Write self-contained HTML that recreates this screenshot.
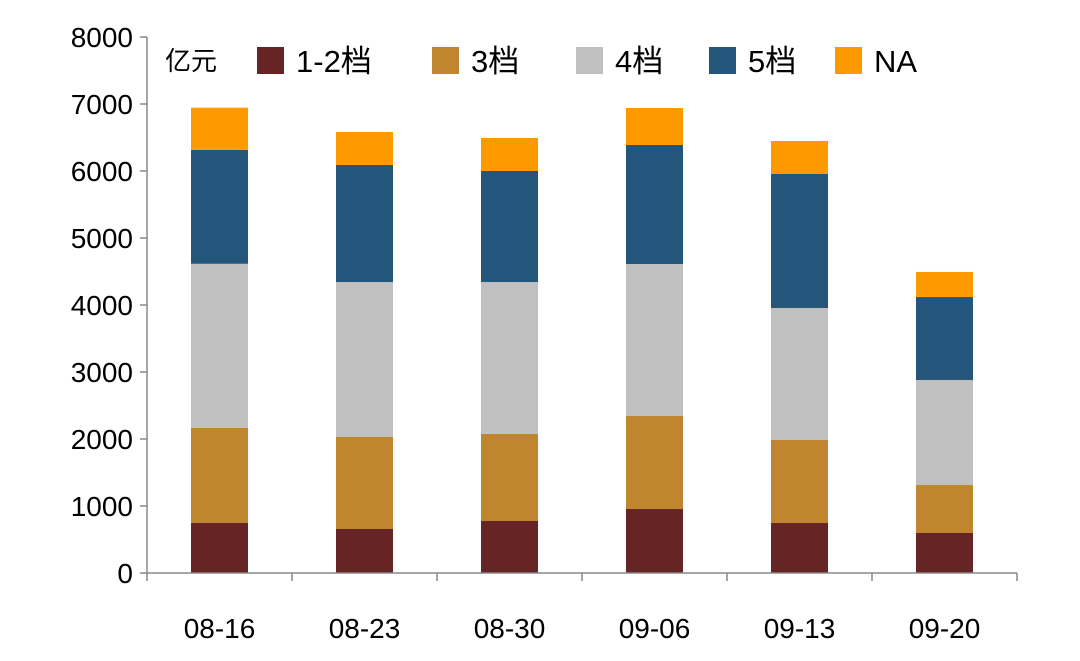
<!DOCTYPE html>
<html><head><meta charset="utf-8"><style>
body{margin:0;background:#fff;}
svg text{font-family:"Liberation Sans","Noto Sans CJK SC",sans-serif;fill:#000;}
</style></head><body>
<svg id="chart" width="1080" height="656" viewBox="0 0 1080 656" xmlns="http://www.w3.org/2000/svg">
<g id="bars"></g>
<g id="axes"></g>
<g id="legend"></g>
</svg>
<script>
const categories=["08-16","08-23","08-30","09-06","09-13","09-20"];
const s12=[750,657,776,955,746,597];
const s3=[1415,1373,1299,1388,1239,716];
const s4=[2450,2313,2268,2269,1970,1568];
const s5=[1700,1747,1657,1776,2000,1238];
const sNA=[630,492,493,552,493,374];
const seriesNames=["1-2档","3档","4档","5档","NA"];
const yTicks=[0,1000,2000,3000,4000,5000,6000,7000,8000];
const series=[s12,s3,s4,s5,sNA];
const colors=["#662424","#c0862f","#c0c0c0","#24557a","#ff9900"];
const NS="http://www.w3.org/2000/svg";
const x0=147,x1=1017,yBase=573,yTop=37,yMax=8000;
const bw=(x1-x0)/categories.length,barW=57;
const y=v=>yBase-(v/yMax)*(yBase-yTop);
const xc=i=>x0+bw*(i+0.5);
function mk(tag,attrs,parent){const e=document.createElementNS(NS,tag);for(const k in attrs)e.setAttribute(k,attrs[k]);parent.appendChild(e);return e;}
const gb=document.getElementById('bars'),ga=document.getElementById('axes'),gl=document.getElementById('legend');
categories.forEach((c,i)=>{let cum=0;series.forEach((s,j)=>{const r=mk('rect',{x:xc(i)-barW/2,y:y(cum+s[i]),width:barW,height:y(cum)-y(cum+s[i]),fill:colors[j]},gb);


cum+=s[i];});});
mk('line',{x1:x0,y1:yTop,x2:x0,y2:yBase,stroke:'#888','stroke-width':1.5},ga);
mk('line',{x1:x0,y1:yBase,x2:x1,y2:yBase,stroke:'#888','stroke-width':1.5},ga);
yTicks.forEach(t=>{mk('line',{x1:x0-7,y1:y(t),x2:x0,y2:y(t),stroke:'#888','stroke-width':1.5},ga);
const tx=mk('text',{x:133,y:y(t)+10,'text-anchor':'end','font-size':28},ga);tx.textContent=t;

});
for(let i=0;i<=categories.length;i++)mk('line',{x1:x0+bw*i,y1:yBase,x2:x0+bw*i,y2:yBase+8,stroke:'#888','stroke-width':1.5},ga);
categories.forEach((c,i)=>{const tx=mk('text',{x:xc(i),y:638,'text-anchor':'middle','font-size':28},ga);tx.textContent=c;

});
const unit=mk('text',{x:165,y:70,'font-size':26},gl);unit.textContent='亿元';


const lx=[257,432,576,709,835];
seriesNames.forEach((n,j)=>{mk('rect',{x:lx[j],y:47,width:27,height:27,fill:colors[j]},gl);
const tx=mk('text',{x:lx[j]+39,y:72,'font-size':31},gl);tx.textContent=n;

});
</script>
</body></html>
